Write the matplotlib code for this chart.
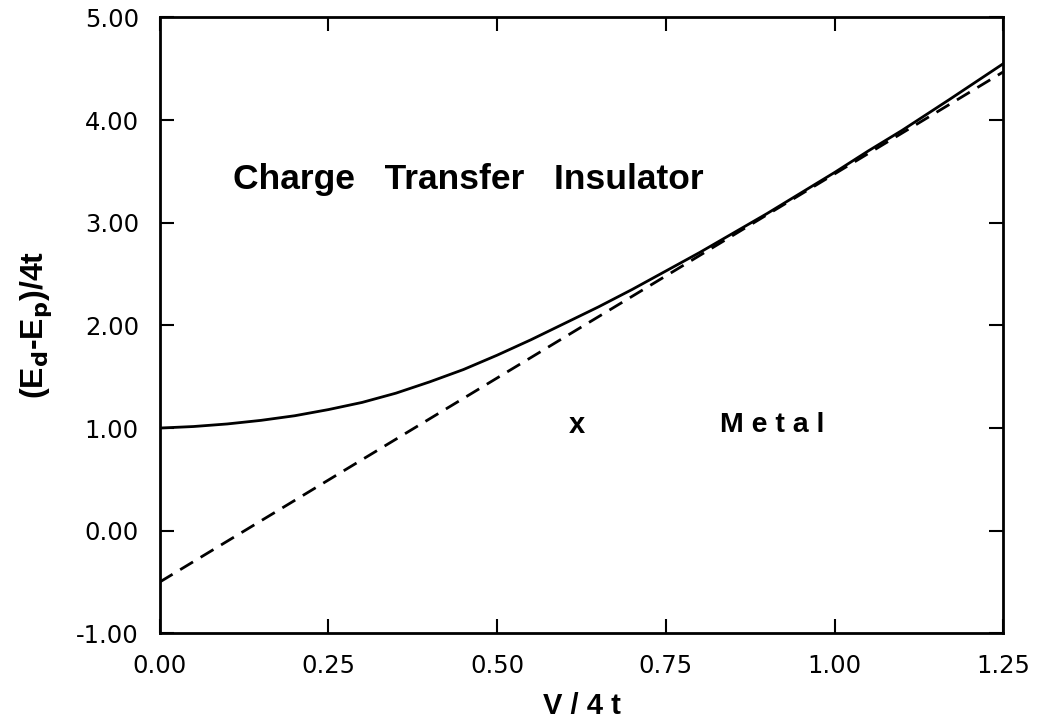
import matplotlib
matplotlib.use("Agg")
import matplotlib.pyplot as plt

# values
v_solid = [0.0, 0.05, 0.1, 0.15, 0.2, 0.25, 0.3, 0.35, 0.4, 0.45, 0.5, 0.55,
           0.6, 0.65, 0.7, 0.75, 0.8, 0.85, 0.9, 0.95, 1.0, 1.05, 1.1, 1.17, 1.25]
e_solid = [1.0, 1.015, 1.04, 1.075, 1.12, 1.18, 1.25, 1.34, 1.45, 1.57, 1.71, 1.86,
           2.02, 2.18, 2.35, 2.53, 2.71, 2.9, 3.09, 3.29, 3.49, 3.7, 3.9, 4.2, 4.55]
v_dash = [0.0, 1.25]
e_dash = [-0.5, 4.47]

xticks = [0.0, 0.25, 0.5, 0.75, 1.0, 1.25]
yticks = [-1.0, 0.0, 1.0, 2.0, 3.0, 4.0, 5.0]

bold = ["Liberation Sans", "DejaVu Sans"]
plt.rcParams["font.family"] = ["DejaVu Sans"]

fig = plt.figure(figsize=(10.44, 7.28), dpi=100)
ax = fig.add_axes([0.153, 0.130, 0.808, 0.846])

ax.plot(v_solid, e_solid, color="black", lw=2.0)
ax.plot(v_dash, e_dash, color="black", lw=2.0, dashes=(5.4, 3.2))

ax.set_xlim(0, 1.25)
ax.set_ylim(-1, 5)
ax.set_xticks(xticks)
ax.set_xticklabels(["%.2f" % t for t in xticks])
ax.set_yticks(yticks)
ax.set_yticklabels(["%.2f" % t for t in yticks])
ax.tick_params(direction="in", length=10, width=1.5, top=True, right=True,
               labelsize=17.5, pad=15)
for s in ax.spines.values():
    s.set_linewidth(2)

ax.set_xlabel("V / 4 t", fontsize=21, fontweight="bold", family=bold, labelpad=10)
ax.set_ylabel(r"(E$_{\mathbf{d}}$-E$_{\mathbf{p}}$)/4t", fontsize=23,
              fontweight="bold", family=bold, labelpad=16)

ax.text(0.108, 3.42, "Charge   Transfer   Insulator", fontsize=25.5,
        fontweight="bold", family=bold, va="center")
ax.text(0.618, 1.03, "x", fontsize=21, fontweight="bold", family=bold,
        ha="center", va="center")
ax.text(0.83, 1.03, "M e t a l", fontsize=20.5, fontweight="bold", family=bold,
        va="center")

fig.savefig("out.png", dpi=100)
